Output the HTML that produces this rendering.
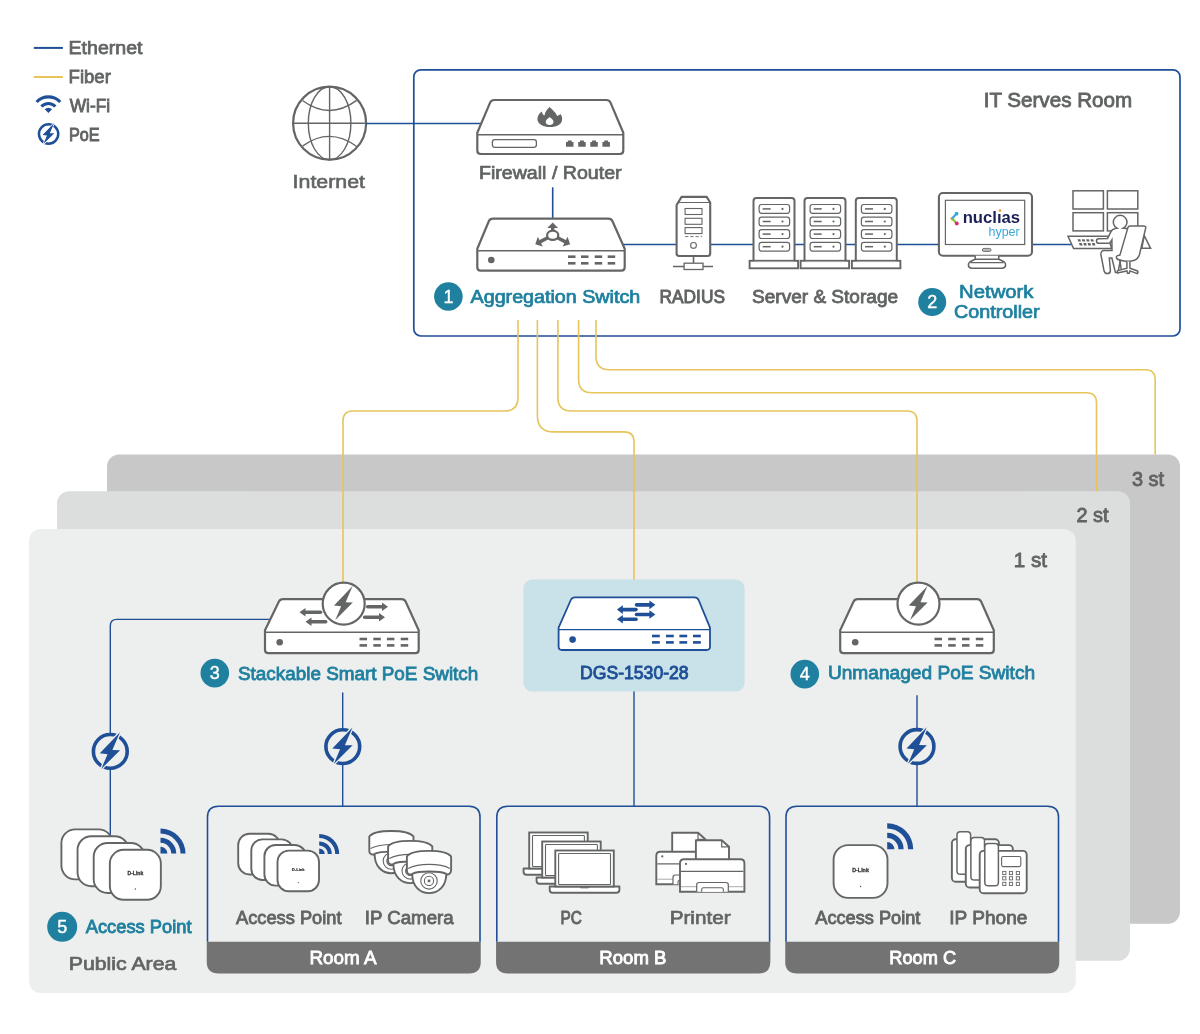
<!DOCTYPE html>
<html><head><meta charset="utf-8"><title>Network Diagram</title>
<style>html,body{margin:0;padding:0;background:#fff;} svg{display:block;will-change:transform;} text{font-family:"Liberation Sans",sans-serif;}</style>
</head><body>
<svg width="1200" height="1034" viewBox="0 0 1200 1034" font-family="Liberation Sans, sans-serif">
<rect width="1200" height="1034" fill="#fff"/>
<line x1="33.8" y1="47.9" x2="62.9" y2="47.9" stroke="#1f4f96" stroke-width="2"/>
<line x1="33.8" y1="77" x2="62.9" y2="77" stroke="#e7c45c" stroke-width="2"/>
<path d="M35.46,100.93 A17.7,17.7 0 0 1 61.34,100.93 L59.08,103.04 A14.6,14.6 0 0 0 37.72,103.04 Z M40.28,105.43 A11.1,11.1 0 0 1 56.52,105.43 L54.25,107.54 A8.0,8.0 0 0 0 42.55,107.54 Z M44.72,109.32 A5.2,5.2 0 0 1 52.08,109.32 L48.40,113.00 A0,0 0 0 0 48.40,113.00 Z" fill="#1f4f96"/>
<circle cx="48.6" cy="134.0" r="9.65" fill="#fff" stroke="#1f4f96" stroke-width="2.49"/>
<polygon points="54.19,122.94 49.80,133.16 54.27,133.27 43.37,144.12 47.01,135.59 42.54,135.12" fill="#1f4f96" stroke="#fff" stroke-width="1.50" paint-order="stroke" stroke-linejoin="miter"/>
<text x="68.51" y="54.2" font-size="18" fill="#626464" font-weight="normal" stroke="#626464" stroke-width="0.75" textLength="74.05" lengthAdjust="spacingAndGlyphs">Ethernet</text>
<text x="68.57" y="83.1" font-size="18" fill="#626464" font-weight="normal" stroke="#626464" stroke-width="0.79" textLength="42.32" lengthAdjust="spacingAndGlyphs">Fiber</text>
<text x="69.76" y="111.7" font-size="18" fill="#626464" font-weight="normal" stroke="#626464" stroke-width="0.9" textLength="40.32" lengthAdjust="spacingAndGlyphs">Wi-Fi</text>
<text x="69.00" y="140.6" font-size="18" fill="#626464" font-weight="normal" stroke="#626464" stroke-width="0.95" textLength="30.63" lengthAdjust="spacingAndGlyphs">PoE</text>
<g fill="none" stroke="#646666">
<circle cx="329.6" cy="123.2" r="36.5" stroke-width="2.2"/>
<ellipse cx="329.6" cy="123.2" rx="21.3" ry="36.5" stroke-width="1.4"/>
<line x1="329.6" y1="86.7" x2="329.6" y2="159.7" stroke-width="1.4"/>
<line x1="293.1" y1="123.2" x2="366.1" y2="123.2" stroke-width="1.4"/>
<path d="M302.8,100.8 Q329.6,120.4 356.6,100.4" stroke-width="1.4"/>
<path d="M302.8,145.9 Q329.6,126.6 356.6,146.5" stroke-width="1.4"/>
</g>
<text x="292.61" y="187.9" font-size="18" fill="#626464" font-weight="normal" stroke="#626464" stroke-width="0.6" textLength="72.36" lengthAdjust="spacingAndGlyphs">Internet</text>
<line x1="366" y1="123.5" x2="482" y2="123.5" stroke="#1f4f96" stroke-width="1.5"/>
<rect x="413.8" y="69.9" width="766.2" height="266.1" rx="7" fill="none" stroke="#1f4f96" stroke-width="1.7"/>
<text x="983.67" y="107" font-size="20" fill="#626464" font-weight="normal" stroke="#626464" stroke-width="0.83" textLength="148.46" lengthAdjust="spacingAndGlyphs">IT Serves Room</text>
<line x1="552.7" y1="187.3" x2="552.7" y2="219" stroke="#1f4f96" stroke-width="1.6"/>
<line x1="620" y1="244.5" x2="1072" y2="244.5" stroke="#1f4f96" stroke-width="1.5"/>
<path d="M477.3,132.7 L490.1,102.6 Q491.3,100 494.3,100 L606.3,100 Q609.3,100 610.5,102.6 L623.3,132.7 L623.3,150.5 Q623.3,154 619.8,154 L480.8,154 Q477.3,154 477.3,150.5 Z" fill="#fff" stroke="#646666" stroke-width="2.2" stroke-linejoin="round"/>
<line x1="477.3" y1="134.7" x2="623.3" y2="134.7" stroke="#646666" stroke-width="1.4"/>
<rect x="492.4" y="139.6" width="44" height="7.7" rx="2.5" fill="none" stroke="#646666" stroke-width="1.3"/>
<path d="M566,146.8 L566,142 L567.8,142 L567.8,140.4 L571.7,140.4 L571.7,142 L573.5,142 L573.5,146.8 Z" fill="#646666"/>
<path d="M578.2,146.8 L578.2,142 L580.0,142 L580.0,140.4 L583.9000000000001,140.4 L583.9000000000001,142 L585.7,142 L585.7,146.8 Z" fill="#646666"/>
<path d="M590.3,146.8 L590.3,142 L592.0999999999999,142 L592.0999999999999,140.4 L596.0,140.4 L596.0,142 L597.8,142 L597.8,146.8 Z" fill="#646666"/>
<path d="M602.4,146.8 L602.4,142 L604.1999999999999,142 L604.1999999999999,140.4 L608.1,140.4 L608.1,142 L609.9,142 L609.9,146.8 Z" fill="#646666"/>
<path d="M549.7,107 C552,110 556,112 557,116 C558.5,115.5 560,114.5 560.7,114.2 C562.5,117 563,121 560,124 C557.5,126.5 553,127 549.7,127 C545,127 540,125.5 538,121.5 C536.5,118 538.5,113.5 542,111.5 C542,113.5 543,115 544.5,115.5 C545,111.5 547.5,109 549.7,107 Z" fill="#646666"/>
<path d="M549.7,117 C551.5,118.5 553.5,120 553.5,122 C553.5,124 551.5,125 549.7,125 C547.5,125 545.7,124 545.7,122 C545.7,120 547.8,118.5 549.7,117 Z" fill="#fff"/>
<text x="478.91" y="178.7" font-size="18" fill="#626464" font-weight="normal" stroke="#626464" stroke-width="0.73" textLength="142.75" lengthAdjust="spacingAndGlyphs">Firewall / Router</text>
<path d="M477.3,248.7 L488.8,221.29999999999998 Q490.0,218.7 493.0,218.7 L608.3000000000001,218.7 Q611.3000000000001,218.7 612.5000000000001,221.29999999999998 L624.7,248.7 L624.7,267.2 Q624.7,270.7 621.2,270.7 L480.8,270.7 Q477.3,270.7 477.3,267.2 Z" fill="#fff" stroke="#646666" stroke-width="2.2" stroke-linejoin="round"/>
<line x1="477.3" y1="250.7" x2="624.7" y2="250.7" stroke="#646666" stroke-width="1.4"/>
<circle cx="491.3" cy="260" r="3.3" fill="#646666"/>
<rect x="568" y="255.39999999999998" width="7.5" height="2.6" fill="#646666"/>
<rect x="568" y="262.0" width="7.5" height="2.6" fill="#646666"/>
<rect x="581" y="255.39999999999998" width="7.5" height="2.6" fill="#646666"/>
<rect x="581" y="262.0" width="7.5" height="2.6" fill="#646666"/>
<rect x="594.7" y="255.39999999999998" width="7.5" height="2.6" fill="#646666"/>
<rect x="594.7" y="262.0" width="7.5" height="2.6" fill="#646666"/>
<rect x="607.7" y="255.39999999999998" width="7.5" height="2.6" fill="#646666"/>
<rect x="607.7" y="262.0" width="7.5" height="2.6" fill="#646666"/>
<line x1="552.7" y1="235.3" x2="552.70" y2="227.50" stroke="#646666" stroke-width="3.4"/>
<polygon points="552.70,222.40 558.10,228.00 547.30,228.00" fill="#646666"/>
<line x1="552.7" y1="235.3" x2="539.84" y2="241.88" stroke="#646666" stroke-width="3.4"/>
<polygon points="535.30,244.20 537.83,236.84 542.74,246.46" fill="#646666"/>
<line x1="552.7" y1="235.3" x2="565.56" y2="241.88" stroke="#646666" stroke-width="3.4"/>
<polygon points="570.10,244.20 562.66,246.46 567.57,236.84" fill="#646666"/>
<ellipse cx="552.7" cy="235.3" rx="5.6" ry="4.6" fill="#fff" stroke="#646666" stroke-width="2.2"/>
<circle cx="448.4" cy="296.5" r="14.3" fill="#1f80a0"/>
<text x="448.4" y="302.8" font-size="18" fill="#fff" font-weight="normal" stroke="#fff" stroke-width="0.4" text-anchor="middle">1</text>
<text x="470.59" y="302.8" font-size="18" fill="#1f80a0" font-weight="normal" stroke="#1f80a0" stroke-width="0.73" textLength="169.61" lengthAdjust="spacingAndGlyphs">Aggregation Switch</text>
<path d="M676.6,205 L681.6,196.9 L706.7,196.9 L710.2,202.5 L710.2,253.5 Q710.2,256 707.7,256 L679.1,256 Q676.6,256 676.6,253.5 Z" fill="#fff" stroke="#646666" stroke-width="2.1" stroke-linejoin="round"/>
<line x1="678" y1="202.5" x2="709" y2="202.5" stroke="#646666" stroke-width="1"/>
<rect x="685.1" y="208.5" width="16.9" height="6" fill="none" stroke="#646666" stroke-width="1.1"/>
<rect x="685.1" y="218.3" width="16.9" height="6" fill="none" stroke="#646666" stroke-width="1.1"/>
<rect x="685.1" y="227.6" width="16.9" height="6" fill="none" stroke="#646666" stroke-width="1.1"/>
<line x1="685.1" y1="236.6" x2="702" y2="236.6" stroke="#646666" stroke-width="0.9" stroke-dasharray="3.2,2"/>
<circle cx="693.5" cy="245.4" r="2.9" fill="#fff" stroke="#646666" stroke-width="1.1"/>
<line x1="693.5" y1="256" x2="693.5" y2="263.3" stroke="#646666" stroke-width="1.6"/>
<line x1="673" y1="266.5" x2="713" y2="266.5" stroke="#646666" stroke-width="1.4"/>
<rect x="684.1" y="263.2" width="18.9" height="6.3" fill="#fff" stroke="#646666" stroke-width="1.3"/>
<text x="659.54" y="303.2" font-size="18" fill="#626464" font-weight="normal" stroke="#626464" stroke-width="0.94" textLength="65.48" lengthAdjust="spacingAndGlyphs">RADIUS</text>
<path d="M753.5,261 L753.5,201 Q753.5,198 756.5,198 L791.5,198 Q794.5,198 794.5,201 L794.5,261" fill="#fff" stroke="#646666" stroke-width="2"/>
<rect x="749.6" y="260.8" width="48.5" height="7.5" fill="#fff" stroke="#646666" stroke-width="1.9"/>
<line x1="754.5" y1="261.6" x2="793.5" y2="261.6" stroke="#aaa" stroke-width="1"/>
<rect x="759.1" y="204.5" width="30.5" height="8.8" rx="2.5" fill="#fff" stroke="#646666" stroke-width="1.2"/>
<line x1="762.7" y1="208.9" x2="770.7" y2="208.9" stroke="#646666" stroke-width="1.5"/>
<circle cx="782.5" cy="208.9" r="1.1" fill="#646666"/>
<rect x="759.1" y="217.1" width="30.5" height="8.8" rx="2.5" fill="#fff" stroke="#646666" stroke-width="1.2"/>
<line x1="762.7" y1="221.5" x2="770.7" y2="221.5" stroke="#646666" stroke-width="1.5"/>
<circle cx="782.5" cy="221.5" r="1.1" fill="#646666"/>
<rect x="759.1" y="229.7" width="30.5" height="8.8" rx="2.5" fill="#fff" stroke="#646666" stroke-width="1.2"/>
<line x1="762.7" y1="234.1" x2="770.7" y2="234.1" stroke="#646666" stroke-width="1.5"/>
<circle cx="782.5" cy="234.1" r="1.1" fill="#646666"/>
<rect x="759.1" y="242.3" width="30.5" height="8.8" rx="2.5" fill="#fff" stroke="#646666" stroke-width="1.2"/>
<line x1="762.7" y1="246.70000000000002" x2="770.7" y2="246.70000000000002" stroke="#646666" stroke-width="1.5"/>
<circle cx="782.5" cy="246.70000000000002" r="1.1" fill="#646666"/>
<path d="M804.5,261 L804.5,201 Q804.5,198 807.5,198 L842.5,198 Q845.5,198 845.5,201 L845.5,261" fill="#fff" stroke="#646666" stroke-width="2"/>
<rect x="800.6" y="260.8" width="48.5" height="7.5" fill="#fff" stroke="#646666" stroke-width="1.9"/>
<line x1="805.5" y1="261.6" x2="844.5" y2="261.6" stroke="#aaa" stroke-width="1"/>
<rect x="810.1" y="204.5" width="30.5" height="8.8" rx="2.5" fill="#fff" stroke="#646666" stroke-width="1.2"/>
<line x1="813.7" y1="208.9" x2="821.7" y2="208.9" stroke="#646666" stroke-width="1.5"/>
<circle cx="833.5" cy="208.9" r="1.1" fill="#646666"/>
<rect x="810.1" y="217.1" width="30.5" height="8.8" rx="2.5" fill="#fff" stroke="#646666" stroke-width="1.2"/>
<line x1="813.7" y1="221.5" x2="821.7" y2="221.5" stroke="#646666" stroke-width="1.5"/>
<circle cx="833.5" cy="221.5" r="1.1" fill="#646666"/>
<rect x="810.1" y="229.7" width="30.5" height="8.8" rx="2.5" fill="#fff" stroke="#646666" stroke-width="1.2"/>
<line x1="813.7" y1="234.1" x2="821.7" y2="234.1" stroke="#646666" stroke-width="1.5"/>
<circle cx="833.5" cy="234.1" r="1.1" fill="#646666"/>
<rect x="810.1" y="242.3" width="30.5" height="8.8" rx="2.5" fill="#fff" stroke="#646666" stroke-width="1.2"/>
<line x1="813.7" y1="246.70000000000002" x2="821.7" y2="246.70000000000002" stroke="#646666" stroke-width="1.5"/>
<circle cx="833.5" cy="246.70000000000002" r="1.1" fill="#646666"/>
<path d="M855.8,261 L855.8,201 Q855.8,198 858.8,198 L893.8,198 Q896.8,198 896.8,201 L896.8,261" fill="#fff" stroke="#646666" stroke-width="2"/>
<rect x="851.9" y="260.8" width="48.5" height="7.5" fill="#fff" stroke="#646666" stroke-width="1.9"/>
<line x1="856.8" y1="261.6" x2="895.8" y2="261.6" stroke="#aaa" stroke-width="1"/>
<rect x="861.4" y="204.5" width="30.5" height="8.8" rx="2.5" fill="#fff" stroke="#646666" stroke-width="1.2"/>
<line x1="865.0" y1="208.9" x2="873.0" y2="208.9" stroke="#646666" stroke-width="1.5"/>
<circle cx="884.8" cy="208.9" r="1.1" fill="#646666"/>
<rect x="861.4" y="217.1" width="30.5" height="8.8" rx="2.5" fill="#fff" stroke="#646666" stroke-width="1.2"/>
<line x1="865.0" y1="221.5" x2="873.0" y2="221.5" stroke="#646666" stroke-width="1.5"/>
<circle cx="884.8" cy="221.5" r="1.1" fill="#646666"/>
<rect x="861.4" y="229.7" width="30.5" height="8.8" rx="2.5" fill="#fff" stroke="#646666" stroke-width="1.2"/>
<line x1="865.0" y1="234.1" x2="873.0" y2="234.1" stroke="#646666" stroke-width="1.5"/>
<circle cx="884.8" cy="234.1" r="1.1" fill="#646666"/>
<rect x="861.4" y="242.3" width="30.5" height="8.8" rx="2.5" fill="#fff" stroke="#646666" stroke-width="1.2"/>
<line x1="865.0" y1="246.70000000000002" x2="873.0" y2="246.70000000000002" stroke="#646666" stroke-width="1.5"/>
<circle cx="884.8" cy="246.70000000000002" r="1.1" fill="#646666"/>
<text x="752.00" y="303.3" font-size="18" fill="#626464" font-weight="normal" stroke="#626464" stroke-width="0.79" textLength="146.08" lengthAdjust="spacingAndGlyphs">Server &amp; Storage</text>
<rect x="938.9" y="193" width="93.1" height="62.7" rx="4" fill="#fff" stroke="#646666" stroke-width="2.1"/>
<rect x="945.4" y="200.3" width="79.3" height="44.2" fill="#fff" stroke="#646666" stroke-width="1.2"/>
<rect x="982.4" y="248.4" width="8.6" height="3" rx="1.5" fill="#bbb" stroke="#646666" stroke-width="0.9"/>
<path d="M975.2,259.3 L998.8,259.3 Q1002.5,260.8 1004.2,262 Q1005.8,263.4 1005.6,265.3 Q1005.4,268.2 1002,268.2 L972,268.2 Q968.6,268.2 968.4,265.3 Q968.2,263.4 969.8,262 Q971.5,260.8 975.2,259.3 Z" fill="#fff" stroke="#646666" stroke-width="1.6"/>
<line x1="970.5" y1="262.6" x2="1003.5" y2="262.6" stroke="#646666" stroke-width="1.1"/>
<path d="M975.2,255.7 L975.2,259.3 L998.8,259.3 L998.8,255.7" fill="#fff" stroke="#646666" stroke-width="1.5"/>
<text x="962.7" y="223.2" font-size="16" font-weight="bold" fill="#1b2058" textLength="57.4" lengthAdjust="spacingAndGlyphs">nuclıas</text>
<text x="988.5" y="235.8" font-size="12" fill="#3aa8dc" textLength="31.2" lengthAdjust="spacingAndGlyphs">hyper</text>
<circle cx="956.6" cy="213.7" r="1.9" fill="#3aa8dc"/>
<circle cx="952.3" cy="218.6" r="1.9" fill="#f29a2e"/>
<line x1="953" y1="219.5" x2="956" y2="222.6" stroke="#8cc63f" stroke-width="2.4" stroke-linecap="round"/>
<circle cx="956.8" cy="223.5" r="1.9" fill="#e3266e"/>
<line x1="952.8" y1="217.8" x2="955.8" y2="214.6" stroke="#3aa8dc" stroke-width="2.2" stroke-linecap="round"/>
<circle cx="1000" cy="210.6" r="1.3" fill="#f29a2e"/>
<circle cx="932.2" cy="302.1" r="14" fill="#1f80a0"/>
<text x="932.2" y="308.40000000000003" font-size="18" fill="#fff" font-weight="normal" stroke="#fff" stroke-width="0.4" text-anchor="middle">2</text>
<text x="959.07" y="297.5" font-size="18" fill="#1f80a0" font-weight="normal" stroke="#1f80a0" stroke-width="0.69" textLength="74.42" lengthAdjust="spacingAndGlyphs">Network</text>
<text x="954.00" y="317.8" font-size="18" fill="#1f80a0" font-weight="normal" stroke="#1f80a0" stroke-width="0.71" textLength="85.64" lengthAdjust="spacingAndGlyphs">Controller</text>
<g fill="#fff" stroke="#646666" stroke-width="1.5">
<rect x="1073" y="190.8" width="30.4" height="18.2"/>
<rect x="1107.4" y="190.8" width="30.4" height="18.2"/>
<rect x="1073" y="212.7" width="30.4" height="18.2"/>
<rect x="1107.4" y="212.7" width="30.4" height="18.2"/>
<polygon points="1068,236.3 1107.7,236.3 1111.7,248.5 1073.6,248.5"/>
<polygon points="1144.2,235.7 1150.6,248.3 1141.8,248.3"/>
<path d="M1117.1,228.2 A6.8,6.8 0 1 1 1123.2,228.2 L1126.5,228.6 Q1128.5,229 1128,231.5 L1122,258 L1120,262 L1118,272.5 L1115.4,272.5 L1111.9,258.1 L1109.3,258.1 L1110.4,270.6 Q1110.3,273.6 1107.4,273.6 Q1104.6,273.6 1104,270.6 L1100.9,254.6 Q1100.7,250.7 1104,250.6 L1112,250.6 L1111.9,239.8 L1111.5,240.5 Q1110.2,243.2 1108.4,243.2 L1098.6,243.2 Q1096.6,243.2 1096.5,241.1 Q1096.5,238.8 1098.5,238.7 L1107.6,238.4 L1110.7,232.2 Q1112,229.2 1114.5,228.8 Z"/>
<path d="M1127.9,227.6 Q1128.3,225.9 1130.2,225.9 L1144,225.9 Q1146.2,226.2 1145.6,228.4 L1139.6,254 Q1138.7,258.2 1134.5,260.3 Q1131,261.6 1126,261.2 Q1118.5,260.3 1116.8,258.6 Q1115.6,256.4 1117.6,255.6 L1119.9,255.1 Z"/>
<line x1="1119.9" y1="261" x2="1121.2" y2="269" fill="none"/>
<path d="M1126.9,261.5 L1126.9,268.2 L1118,270.6 Q1116.6,271.6 1117.6,273 L1126.9,270.9 L1127.5,273.3 L1129.3,273.3 L1129.9,270.9 L1137.4,273.6 Q1138.6,272.2 1137.6,271 L1129.9,268.2 L1129.9,261.5"/>
</g>
<polygon points="1077.5,239.20000000000002 1080.3,239.20000000000002 1081.0,241.6 1078.2,241.6" fill="#646666"/>
<polygon points="1081.8,239.20000000000002 1084.6,239.20000000000002 1085.3,241.6 1082.5,241.6" fill="#646666"/>
<polygon points="1086.1,239.20000000000002 1088.8999999999999,239.20000000000002 1089.6,241.6 1086.8,241.6" fill="#646666"/>
<polygon points="1090.4,239.20000000000002 1093.2,239.20000000000002 1093.9,241.6 1091.1000000000001,241.6" fill="#646666"/>
<polygon points="1079.0,243.0 1081.8,243.0 1082.5,245.39999999999998 1079.7,245.39999999999998" fill="#646666"/>
<polygon points="1083.3,243.0 1086.1,243.0 1086.8,245.39999999999998 1084.0,245.39999999999998" fill="#646666"/>
<polygon points="1087.6,243.0 1090.3999999999999,243.0 1091.1,245.39999999999998 1088.3,245.39999999999998" fill="#646666"/>
<polygon points="1091.9,243.0 1094.7,243.0 1095.4,245.39999999999998 1092.6000000000001,245.39999999999998" fill="#646666"/>
<rect x="107" y="454.5" width="1073" height="469.2" rx="12" fill="#c8c8c8"/>
<rect x="57.1" y="491.3" width="1072.9" height="469.4" rx="12" fill="#dcdddd"/>
<rect x="29" y="529" width="1046.8" height="464" rx="12" fill="#edeeee"/>
<text x="1132.00" y="486" font-size="20" fill="#626464" font-weight="normal" stroke="#626464" stroke-width="0.89" textLength="32.05" lengthAdjust="spacingAndGlyphs">3 st</text>
<text x="1076.50" y="522" font-size="20" fill="#626464" font-weight="normal" stroke="#626464" stroke-width="0.89" textLength="32.05" lengthAdjust="spacingAndGlyphs">2 st</text>
<text x="1013.77" y="567" font-size="20" fill="#626464" font-weight="normal" stroke="#626464" stroke-width="0.84" textLength="33.16" lengthAdjust="spacingAndGlyphs">1 st</text>
<path d="M518.0,320 L518.0,397.5 Q518.0,411.0 504.5,411.0 L353.0,411.0 Q343.0,411.0 343.0,421.0 L343.0,583" fill="none" stroke="#e7c45c" stroke-width="1.6"/>
<path d="M537.4,320 L537.4,415.4 Q537.4,431.9 553.9,431.9 L624,431.9 Q634,431.9 634,441.9 L634,580" fill="none" stroke="#e7c45c" stroke-width="1.6"/>
<path d="M557.9,320 L557.9,397.5 Q557.9,411 571.4,411 L907.0,411 Q917.0,411 917.0,421 L917.0,583" fill="none" stroke="#e7c45c" stroke-width="1.6"/>
<path d="M578.6,320 L578.6,379.2 Q578.6,392.7 592.1,392.7 L1086.5,392.7 Q1096.5,392.7 1096.5,402.7 L1096.5,491.3" fill="none" stroke="#e7c45c" stroke-width="1.6"/>
<path d="M596.0,320 L596.0,356.3 Q596.0,369.8 609.5,369.8 L1145.2,369.8 Q1155.2,369.8 1155.2,379.8 L1155.2,454.5" fill="none" stroke="#e7c45c" stroke-width="1.6"/>
<path d="M270,619.4 L116.8,619.4 Q110.3,619.4 110.3,625.9 L110.3,836" fill="none" stroke="#1f4f96" stroke-width="1.4"/>
<line x1="342.7" y1="692.5" x2="342.7" y2="806.3" stroke="#1f4f96" stroke-width="1.4"/>
<line x1="634.0" y1="691" x2="634.0" y2="806.3" stroke="#1f4f96" stroke-width="1.4"/>
<line x1="917.0" y1="695.2" x2="917.0" y2="806.3" stroke="#1f4f96" stroke-width="1.4"/>
<circle cx="110.3" cy="751.4" r="16.90" fill="#edeeee" stroke="#1f4f96" stroke-width="3.60"/>
<polygon points="119.97,732.26 112.38,749.95 120.11,750.14 101.26,768.90 107.55,754.15 99.81,753.33" fill="#1f4f96" stroke="#edeeee" stroke-width="2.60" paint-order="stroke" stroke-linejoin="miter"/>
<circle cx="342.8" cy="746.6" r="16.90" fill="#edeeee" stroke="#1f4f96" stroke-width="3.60"/>
<polygon points="352.47,727.46 344.88,745.15 352.61,745.34 333.76,764.10 340.05,749.35 332.31,748.53" fill="#1f4f96" stroke="#edeeee" stroke-width="2.60" paint-order="stroke" stroke-linejoin="miter"/>
<circle cx="917.0" cy="746.5" r="16.90" fill="#edeeee" stroke="#1f4f96" stroke-width="3.60"/>
<polygon points="926.67,727.36 919.08,745.05 926.81,745.24 907.96,764.00 914.25,749.25 906.51,748.43" fill="#1f4f96" stroke="#edeeee" stroke-width="2.60" paint-order="stroke" stroke-linejoin="miter"/>
<path d="M265,630.2 L278.8,601.8000000000001 Q280,599.2 283,599.2 L401.5,599.2 Q404.5,599.2 405.7,601.8000000000001 L418.7,630.2 L418.7,649.7 Q418.7,653.2 415.2,653.2 L268.5,653.2 Q265,653.2 265,649.7 Z" fill="#fff" stroke="#646666" stroke-width="2.2" stroke-linejoin="round"/>
<line x1="265" y1="632.2" x2="418.7" y2="632.2" stroke="#646666" stroke-width="1.4"/>
<circle cx="279.7" cy="642.3" r="3.3" fill="#646666"/>
<rect x="359.5" y="637.7" width="7.5" height="2.6" fill="#646666"/>
<rect x="359.5" y="644.1" width="7.5" height="2.6" fill="#646666"/>
<rect x="373.3" y="637.7" width="7.5" height="2.6" fill="#646666"/>
<rect x="373.3" y="644.1" width="7.5" height="2.6" fill="#646666"/>
<rect x="386.9" y="637.7" width="7.5" height="2.6" fill="#646666"/>
<rect x="386.9" y="644.1" width="7.5" height="2.6" fill="#646666"/>
<rect x="400.7" y="637.7" width="7.5" height="2.6" fill="#646666"/>
<rect x="400.7" y="644.1" width="7.5" height="2.6" fill="#646666"/>
<line x1="320.5" y1="612.3" x2="305.5" y2="612.3" stroke="#646666" stroke-width="3.6" stroke-linecap="round"/>
<polygon points="299.5,612.3 305.5,608.0 305.5,616.5999999999999" fill="#646666"/>
<line x1="325.7" y1="621.7" x2="311.5" y2="621.7" stroke="#646666" stroke-width="3.6" stroke-linecap="round"/>
<polygon points="305.5,621.7 311.5,617.4000000000001 311.5,626.0" fill="#646666"/>
<line x1="367.7" y1="606.7" x2="382" y2="606.7" stroke="#646666" stroke-width="3.6" stroke-linecap="round"/>
<polygon points="388,606.7 382,602.4000000000001 382,611.0" fill="#646666"/>
<line x1="364.7" y1="617.2" x2="379" y2="617.2" stroke="#646666" stroke-width="3.6" stroke-linecap="round"/>
<polygon points="385,617.2 379,612.9000000000001 379,621.5" fill="#646666"/>
<circle cx="343.7" cy="603.7" r="21" fill="#fff" stroke="#646666" stroke-width="2.2"/>
<polygon points="352.69,585.90 345.63,602.35 352.82,602.53 335.29,619.98 341.14,606.26 333.94,605.49" fill="#646666"/>
<circle cx="214.8" cy="673.1" r="14.3" fill="#1f80a0"/>
<text x="214.8" y="679.4" font-size="18" fill="#fff" font-weight="normal" stroke="#fff" stroke-width="0.4" text-anchor="middle">3</text>
<text x="238.00" y="679.9" font-size="18" fill="#1f80a0" font-weight="normal" stroke="#1f80a0" stroke-width="0.81" textLength="240.31" lengthAdjust="spacingAndGlyphs">Stackable Smart PoE Switch</text>
<rect x="523.4" y="579.6" width="221.2" height="112" rx="9" fill="#c9e1e8"/>
<path d="M558.6,627.6 L570.8,600.0 Q572.0,597.4 575.0,597.4 L694.4,597.4 Q697.4,597.4 698.6,600.0 L710,627.6 L710,646.5 Q710,650 706.5,650 L562.1,650 Q558.6,650 558.6,646.5 Z" fill="#fff" stroke="#1f4f96" stroke-width="1.8" stroke-linejoin="round"/>
<line x1="558.6" y1="629.6" x2="710" y2="629.6" stroke="#1f4f96" stroke-width="1.4"/>
<circle cx="572.6" cy="639.6" r="3.3" fill="#1f4f96"/>
<rect x="652" y="634.7" width="7.8" height="2.6" fill="#1f4f96"/>
<rect x="652" y="641.1" width="7.8" height="2.6" fill="#1f4f96"/>
<rect x="666" y="634.7" width="7.8" height="2.6" fill="#1f4f96"/>
<rect x="666" y="641.1" width="7.8" height="2.6" fill="#1f4f96"/>
<rect x="679.4" y="634.7" width="7.8" height="2.6" fill="#1f4f96"/>
<rect x="679.4" y="641.1" width="7.8" height="2.6" fill="#1f4f96"/>
<rect x="693" y="634.7" width="7.8" height="2.6" fill="#1f4f96"/>
<rect x="693" y="641.1" width="7.8" height="2.6" fill="#1f4f96"/>
<line x1="636.5" y1="604.85" x2="649.4" y2="604.85" stroke="#1f4f96" stroke-width="3.6" stroke-linecap="round"/>
<polygon points="655.4,604.85 649.4,600.5500000000001 649.4,609.15" fill="#1f4f96"/>
<line x1="636" y1="609.6" x2="622.9" y2="609.6" stroke="#1f4f96" stroke-width="3.6" stroke-linecap="round"/>
<polygon points="616.9,609.6 622.9,605.3000000000001 622.9,613.9" fill="#1f4f96"/>
<line x1="636.5" y1="614.5" x2="649.4" y2="614.5" stroke="#1f4f96" stroke-width="3.6" stroke-linecap="round"/>
<polygon points="655.4,614.5 649.4,610.2 649.4,618.8" fill="#1f4f96"/>
<line x1="636" y1="619.3" x2="622.9" y2="619.3" stroke="#1f4f96" stroke-width="3.6" stroke-linecap="round"/>
<polygon points="616.9,619.3 622.9,615.0 622.9,623.5999999999999" fill="#1f4f96"/>
<text x="580.02" y="679" font-size="18" fill="#1f4f96" font-weight="normal" stroke="#1f4f96" stroke-width="0.91" textLength="108.64" lengthAdjust="spacingAndGlyphs">DGS-1530-28</text>
<path d="M840.2,630.2 L853.5,601.8000000000001 Q854.7,599.2 857.7,599.2 L977.0,599.2 Q980.0,599.2 981.2,601.8000000000001 L993.8,630.2 L993.8,649.7 Q993.8,653.2 990.3,653.2 L843.7,653.2 Q840.2,653.2 840.2,649.7 Z" fill="#fff" stroke="#646666" stroke-width="2.2" stroke-linejoin="round"/>
<line x1="840.2" y1="632.2" x2="993.8" y2="632.2" stroke="#646666" stroke-width="1.4"/>
<circle cx="855.2" cy="642.3" r="3.3" fill="#646666"/>
<rect x="934.5" y="637.7" width="7.5" height="2.6" fill="#646666"/>
<rect x="934.5" y="644.1" width="7.5" height="2.6" fill="#646666"/>
<rect x="948.2" y="637.7" width="7.5" height="2.6" fill="#646666"/>
<rect x="948.2" y="644.1" width="7.5" height="2.6" fill="#646666"/>
<rect x="962" y="637.7" width="7.5" height="2.6" fill="#646666"/>
<rect x="962" y="644.1" width="7.5" height="2.6" fill="#646666"/>
<rect x="975.8" y="637.7" width="7.5" height="2.6" fill="#646666"/>
<rect x="975.8" y="644.1" width="7.5" height="2.6" fill="#646666"/>
<circle cx="918.5" cy="603.7" r="21" fill="#fff" stroke="#646666" stroke-width="2.2"/>
<polygon points="927.49,585.90 920.43,602.35 927.62,602.53 910.09,619.98 915.94,606.26 908.74,605.49" fill="#646666"/>
<circle cx="804.8" cy="674.1" r="14.3" fill="#1f80a0"/>
<text x="804.8" y="680.4" font-size="18" fill="#fff" font-weight="normal" stroke="#fff" stroke-width="0.4" text-anchor="middle">4</text>
<text x="827.94" y="679.3" font-size="18" fill="#1f80a0" font-weight="normal" stroke="#1f80a0" stroke-width="0.79" textLength="207.18" lengthAdjust="spacingAndGlyphs">Unmanaged PoE Switch</text>
<rect x="61.4" y="829.4" width="51" height="49.98" rx="13.770000000000001" fill="#fff" stroke="#646666" stroke-width="1.9"/>
<rect x="77.55" y="836.1999999999999" width="51" height="49.98" rx="13.770000000000001" fill="#fff" stroke="#646666" stroke-width="1.9"/>
<rect x="93.69999999999999" y="843.0" width="51" height="49.98" rx="13.770000000000001" fill="#fff" stroke="#646666" stroke-width="1.9"/>
<rect x="109.85" y="849.8" width="51" height="49.98" rx="13.770000000000001" fill="#fff" stroke="#646666" stroke-width="1.9"/>
<text x="135.35" y="875.3" font-size="5.10" font-weight="bold" fill="#333" stroke="#333" stroke-width="0.26" text-anchor="middle" textLength="15.81" lengthAdjust="spacingAndGlyphs">D-Link</text>
<circle cx="135.35" cy="889.0699999999999" r="0.71" fill="#555"/>
<path d="M160.5,853.6 L160.5,846.725 A6.875000000000001,6.875000000000001 0 0 1 167.375,853.6 Z" fill="#1f4f96"/>
<path d="M160.5,837.85 A15.75,15.75 0 0 1 176.25,853.6 L171.25,853.6 A10.75,10.75 0 0 0 160.5,842.85 Z" fill="#1f4f96"/>
<path d="M160.5,828.6 A25,25 0 0 1 185.5,853.6 L180.5,853.6 A20.0,20.0 0 0 0 160.5,833.6 Z" fill="#1f4f96"/>
<circle cx="62.2" cy="926.8" r="15" fill="#1f80a0"/>
<text x="62.2" y="933.0999999999999" font-size="18" fill="#fff" font-weight="normal" stroke="#fff" stroke-width="0.4" text-anchor="middle">5</text>
<text x="85.72" y="933.3" font-size="18" fill="#1f80a0" font-weight="normal" stroke="#1f80a0" stroke-width="0.84" textLength="105.91" lengthAdjust="spacingAndGlyphs">Access Point</text>
<text x="68.78" y="969.5" font-size="19" fill="#626464" font-weight="normal" stroke="#626464" stroke-width="0.7" textLength="107.54" lengthAdjust="spacingAndGlyphs">Public Area</text>
<path d="M206.75,941.8 L206.75,961.8 Q206.75,973.55 218.5,973.55 L469,973.55 Q480.75,973.55 480.75,961.8 L480.75,941.8 Z" fill="#737373"/>
<path d="M207.5,941.8 L207.5,817.3 Q207.5,806.3 218.5,806.3 L469,806.3 Q480,806.3 480,817.3 L480,941.8" fill="none" stroke="#1f4f96" stroke-width="1.6"/>
<text x="309.45" y="963.7" font-size="18" fill="#fff" font-weight="normal" stroke="#fff" stroke-width="0.81" textLength="67.03" lengthAdjust="spacingAndGlyphs">Room A</text>
<path d="M496.05,941.8 L496.05,961.8 Q496.05,973.55 507.8,973.55 L758.6,973.55 Q770.35,973.55 770.35,961.8 L770.35,941.8 Z" fill="#737373"/>
<path d="M496.8,941.8 L496.8,817.3 Q496.8,806.3 507.8,806.3 L758.6,806.3 Q769.6,806.3 769.6,817.3 L769.6,941.8" fill="none" stroke="#1f4f96" stroke-width="1.6"/>
<text x="599.37" y="963.7" font-size="18" fill="#fff" font-weight="normal" stroke="#fff" stroke-width="0.83" textLength="67.06" lengthAdjust="spacingAndGlyphs">Room B</text>
<path d="M785.25,941.8 L785.25,961.8 Q785.25,973.55 797,973.55 L1047.5,973.55 Q1059.25,973.55 1059.25,961.8 L1059.25,941.8 Z" fill="#737373"/>
<path d="M786,941.8 L786,817.3 Q786,806.3 797,806.3 L1047.5,806.3 Q1058.5,806.3 1058.5,817.3 L1058.5,941.8" fill="none" stroke="#1f4f96" stroke-width="1.6"/>
<text x="889.39" y="963.7" font-size="18" fill="#fff" font-weight="normal" stroke="#fff" stroke-width="0.87" textLength="66.62" lengthAdjust="spacingAndGlyphs">Room C</text>
<rect x="238.2" y="833.8" width="41.5" height="40.67" rx="11.205" fill="#fff" stroke="#646666" stroke-width="1.9"/>
<rect x="251.29999999999998" y="839.4" width="41.5" height="40.67" rx="11.205" fill="#fff" stroke="#646666" stroke-width="1.9"/>
<rect x="264.4" y="845.0" width="41.5" height="40.67" rx="11.205" fill="#fff" stroke="#646666" stroke-width="1.9"/>
<rect x="277.5" y="850.5999999999999" width="41.5" height="40.67" rx="11.205" fill="#fff" stroke="#646666" stroke-width="1.9"/>
<text x="298.25" y="871.3499999999999" font-size="4.15" font-weight="bold" fill="#333" stroke="#333" stroke-width="0.21" text-anchor="middle" textLength="12.87" lengthAdjust="spacingAndGlyphs">D-Link</text>
<circle cx="298.25" cy="882.555" r="0.58" fill="#555"/>
<path d="M319.2,854 L319.2,848.5 A5.5,5.5 0 0 1 324.7,854 Z" fill="#1f4f96"/>
<path d="M319.2,841.4 A12.6,12.6 0 0 1 331.8,854 L327.8,854 A8.6,8.6 0 0 0 319.2,845.4 Z" fill="#1f4f96"/>
<path d="M319.2,834 A20,20 0 0 1 339.2,854 L335.2,854 A16.0,16.0 0 0 0 319.2,838.0 Z" fill="#1f4f96"/>
<path d="M369.3,836.5 C372.3,832.6 381.3,831 391.40000000000003,831 C401.3,831 410.3,832.6 413.5,836.5 L413.5,850 C413.5,853 411.3,854.6 408.8,854.8 L373.8,854.8 C371.3,854.6 369.3,853 369.3,851 Z" fill="#fff" stroke="#646666" stroke-width="1.9" stroke-linejoin="round"/>
<path d="M370.5,848.6 C377.3,845.2 384.3,844.5 391.40000000000003,844.5 C399.3,844.5 406.3,845.2 412.3,848.6" fill="none" stroke="#646666" stroke-width="1.1"/>
<path d="M374.6,853.9 C374.6,866.5 382.3,873.2 391.40000000000003,873.2 C400.8,873.2 408.7,866.5 408.7,853.9 C402.3,850.8 380.8,850.8 374.6,853.9 Z" fill="#fff" stroke="#646666" stroke-width="1.9" stroke-linejoin="round"/>
<circle cx="391.40000000000003" cy="861" r="8.2" fill="none" stroke="#646666" stroke-width="1.1"/>
<circle cx="391.40000000000003" cy="861" r="4.6" fill="none" stroke="#646666" stroke-width="1.1"/>
<rect x="390.1" y="859.7" width="2.6" height="2.6" fill="#646666"/>
<path d="M388.1,846.4 C391.1,842.5 400.1,840.9 410.20000000000005,840.9 C420.1,840.9 429.1,842.5 432.3,846.4 L432.3,859.9 C432.3,862.9 430.1,864.5 427.6,864.6999999999999 L392.6,864.6999999999999 C390.1,864.5 388.1,862.9 388.1,860.9 Z" fill="#fff" stroke="#646666" stroke-width="1.9" stroke-linejoin="round"/>
<path d="M389.3,858.5 C396.1,855.1 403.1,854.4 410.20000000000005,854.4 C418.1,854.4 425.1,855.1 431.1,858.5" fill="none" stroke="#646666" stroke-width="1.1"/>
<path d="M393.40000000000003,863.8 C393.40000000000003,876.4 401.1,883.1 410.20000000000005,883.1 C419.6,883.1 427.5,876.4 427.5,863.8 C421.1,860.6999999999999 399.6,860.6999999999999 393.40000000000003,863.8 Z" fill="#fff" stroke="#646666" stroke-width="1.9" stroke-linejoin="round"/>
<circle cx="410.20000000000005" cy="870.9" r="8.2" fill="none" stroke="#646666" stroke-width="1.1"/>
<circle cx="410.20000000000005" cy="870.9" r="4.6" fill="none" stroke="#646666" stroke-width="1.1"/>
<rect x="408.90000000000003" y="869.6" width="2.6" height="2.6" fill="#646666"/>
<path d="M406.9,856.4 C409.9,852.5 418.9,850.9 429.0,850.9 C438.9,850.9 447.9,852.5 451.09999999999997,856.4 L451.09999999999997,869.9 C451.09999999999997,872.9 448.9,874.5 446.4,874.6999999999999 L411.4,874.6999999999999 C408.9,874.5 406.9,872.9 406.9,870.9 Z" fill="#fff" stroke="#646666" stroke-width="1.9" stroke-linejoin="round"/>
<path d="M408.09999999999997,868.5 C414.9,865.1 421.9,864.4 429.0,864.4 C436.9,864.4 443.9,865.1 449.9,868.5" fill="none" stroke="#646666" stroke-width="1.1"/>
<path d="M412.2,873.8 C412.2,886.4 419.9,893.1 429.0,893.1 C438.4,893.1 446.29999999999995,886.4 446.29999999999995,873.8 C439.9,870.6999999999999 418.4,870.6999999999999 412.2,873.8 Z" fill="#fff" stroke="#646666" stroke-width="1.9" stroke-linejoin="round"/>
<circle cx="429.0" cy="880.9" r="8.2" fill="none" stroke="#646666" stroke-width="1.1"/>
<circle cx="429.0" cy="880.9" r="4.6" fill="none" stroke="#646666" stroke-width="1.1"/>
<rect x="427.7" y="879.6" width="2.6" height="2.6" fill="#646666"/>
<text x="236.01" y="923.8" font-size="18" fill="#626464" font-weight="normal" stroke="#626464" stroke-width="0.84" textLength="105.52" lengthAdjust="spacingAndGlyphs">Access Point</text>
<text x="364.76" y="923.8" font-size="18" fill="#626464" font-weight="normal" stroke="#626464" stroke-width="0.81" textLength="88.89" lengthAdjust="spacingAndGlyphs">IP Camera</text>
<path d="M523.6,868.5 L593.3000000000001,868.5 L593.3000000000001,872.0 Q593.3000000000001,874.7 590.3000000000001,874.7 L526.6,874.7 Q523.6,874.7 523.6,872.0 Z" fill="#fff" stroke="#646666" stroke-width="1.9" stroke-linejoin="round"/>
<rect x="529.2" y="832.5" width="58.5" height="36" fill="#fff" stroke="#646666" stroke-width="1.9"/>
<rect x="532.5" y="835.5" width="51.9" height="31" rx="0.8" fill="#fff" stroke="#646666" stroke-width="1.1"/>
<path d="M536.6,877.5 L606.3000000000001,877.5 L606.3000000000001,881.0 Q606.3000000000001,883.7 603.3000000000001,883.7 L539.6,883.7 Q536.6,883.7 536.6,881.0 Z" fill="#fff" stroke="#646666" stroke-width="1.9" stroke-linejoin="round"/>
<rect x="542.2" y="841.5" width="58.5" height="36" fill="#fff" stroke="#646666" stroke-width="1.9"/>
<rect x="545.5" y="844.5" width="51.9" height="31" rx="0.8" fill="#fff" stroke="#646666" stroke-width="1.1"/>
<path d="M549.6999999999999,886.5 L619.4,886.5 L619.4,890.0 Q619.4,892.7 616.4,892.7 L552.6999999999999,892.7 Q549.6999999999999,892.7 549.6999999999999,890.0 Z" fill="#fff" stroke="#646666" stroke-width="1.9" stroke-linejoin="round"/>
<rect x="555.3" y="850.5" width="58.5" height="36" fill="#fff" stroke="#646666" stroke-width="1.9"/>
<rect x="558.5999999999999" y="853.5" width="51.9" height="31" rx="0.8" fill="#fff" stroke="#646666" stroke-width="1.1"/>
<path d="M579.6,886.2 L580.6,887.8 L588.6,887.8 L589.6,886.2" fill="none" stroke="#646666" stroke-width="1"/>
<path d="M672.1999999999999,852.7 L672.1999999999999,832.7 L697.9999999999999,832.7 L705.2999999999998,839.3000000000001 L705.2999999999998,852.7" fill="#fff" stroke="#646666" stroke-width="1.9" stroke-linejoin="round"/>
<path d="M697.9999999999999,832.7 L697.9999999999999,839.3000000000001 L705.2999999999998,839.3000000000001" fill="none" stroke="#646666" stroke-width="1.2"/>
<path d="M656.3,884.2 L656.3,855.7 Q656.3,851.7 660.3,851.7 L716.6999999999999,851.7 Q720.6999999999999,851.7 720.6999999999999,855.7 L720.6999999999999,884.2 Z" fill="#fff" stroke="#646666" stroke-width="1.9"/>
<line x1="657.3" y1="863.8000000000001" x2="719.6999999999999" y2="863.8000000000001" stroke="#646666" stroke-width="1.2"/>
<circle cx="662.3" cy="856.4000000000001" r="1.1" fill="#646666"/>
<line x1="657.3" y1="879.2" x2="719.6999999999999" y2="879.2" stroke="#aaa" stroke-width="1"/>
<path d="M673.0,884.2 L673.0,877.2 Q673.0,875.0 675.3,875.0 L702.3,875.0 Q704.5999999999999,875.0 704.5999999999999,877.2 L704.5999999999999,884.2" fill="#fff" stroke="#646666" stroke-width="1.2"/>
<path d="M678.0,884.2 L678.0,881.7 Q678.0,880.2 679.8,880.2 L697.8,880.2 Q699.5999999999999,880.2 699.5999999999999,881.7 L699.5999999999999,884.2" fill="#fff" stroke="#646666" stroke-width="1.1"/>
<path d="M695.9,860.2 L695.9,840.2 L721.6999999999999,840.2 L728.9999999999999,846.8000000000001 L728.9999999999999,860.2" fill="#fff" stroke="#646666" stroke-width="1.9" stroke-linejoin="round"/>
<path d="M721.6999999999999,840.2 L721.6999999999999,846.8000000000001 L728.9999999999999,846.8000000000001" fill="none" stroke="#646666" stroke-width="1.2"/>
<path d="M680,891.7 L680,863.2 Q680,859.2 684,859.2 L740.4,859.2 Q744.4,859.2 744.4,863.2 L744.4,891.7 Z" fill="#fff" stroke="#646666" stroke-width="1.9"/>
<line x1="681" y1="871.3000000000001" x2="743.4" y2="871.3000000000001" stroke="#646666" stroke-width="1.2"/>
<circle cx="686" cy="863.9000000000001" r="1.1" fill="#646666"/>
<line x1="681" y1="886.7" x2="743.4" y2="886.7" stroke="#aaa" stroke-width="1"/>
<path d="M696.7,891.7 L696.7,884.7 Q696.7,882.5 699,882.5 L726,882.5 Q728.3,882.5 728.3,884.7 L728.3,891.7" fill="#fff" stroke="#646666" stroke-width="1.2"/>
<path d="M701.7,891.7 L701.7,889.2 Q701.7,887.7 703.5,887.7 L721.5,887.7 Q723.3,887.7 723.3,889.2 L723.3,891.7" fill="#fff" stroke="#646666" stroke-width="1.1"/>
<text x="560.45" y="923.6" font-size="18" fill="#626464" font-weight="normal" stroke="#626464" stroke-width="0.95" textLength="21.37" lengthAdjust="spacingAndGlyphs">PC</text>
<text x="669.65" y="923.6" font-size="18" fill="#626464" font-weight="normal" stroke="#626464" stroke-width="0.66" textLength="60.87" lengthAdjust="spacingAndGlyphs">Printer</text>
<rect x="833.6" y="845.1" width="53.9" height="52.821999999999996" rx="14.553" fill="#fff" stroke="#646666" stroke-width="1.9"/>
<text x="860.5500000000001" y="872.0500000000001" font-size="5.39" font-weight="bold" fill="#333" stroke="#333" stroke-width="0.27" text-anchor="middle" textLength="16.71" lengthAdjust="spacingAndGlyphs">D-Link</text>
<circle cx="860.5500000000001" cy="886.6030000000001" r="0.75" fill="#555"/>
<path d="M887.2,849.2 L887.2,842.0500000000001 A7.15,7.15 0 0 1 894.35,849.2 Z" fill="#1f4f96"/>
<path d="M887.2,832.82 A16.38,16.38 0 0 1 903.58,849.2 L898.38,849.2 A11.18,11.18 0 0 0 887.2,838.0200000000001 Z" fill="#1f4f96"/>
<path d="M887.2,823.2 A26,26 0 0 1 913.2,849.2 L908.0,849.2 A20.8,20.8 0 0 0 887.2,828.4000000000001 Z" fill="#1f4f96"/>
<rect x="951.9" y="839.3" width="47" height="42.4" rx="3.8" fill="#fff" stroke="#646666" stroke-width="1.9"/>
<rect x="957.0" y="831.8" width="13.6" height="42.4" rx="3.3" fill="#fff" stroke="#646666" stroke-width="1.5"/>
<rect x="965.8" y="845.1" width="47" height="42.4" rx="3.8" fill="#fff" stroke="#646666" stroke-width="1.9"/>
<rect x="970.9" y="837.6" width="13.6" height="42.4" rx="3.3" fill="#fff" stroke="#646666" stroke-width="1.5"/>
<rect x="979.7" y="850.9" width="47" height="42.4" rx="3.8" fill="#fff" stroke="#646666" stroke-width="1.9"/>
<rect x="984.8000000000001" y="843.4" width="13.6" height="42.4" rx="3.3" fill="#fff" stroke="#646666" stroke-width="1.5"/>
<rect x="1001.6" y="856.5" width="19.2" height="10.1" rx="1.5" fill="#fff" stroke="#646666" stroke-width="1.1"/>
<rect x="1002.6999999999999" y="871.4" width="3.2" height="3.2" fill="#fff" stroke="#646666" stroke-width="0.9"/>
<rect x="1002.6999999999999" y="876.6999999999999" width="3.2" height="3.2" fill="#fff" stroke="#646666" stroke-width="0.9"/>
<rect x="1002.6999999999999" y="882.3" width="3.2" height="3.2" fill="#fff" stroke="#646666" stroke-width="0.9"/>
<rect x="1009.4" y="871.4" width="3.2" height="3.2" fill="#fff" stroke="#646666" stroke-width="0.9"/>
<rect x="1009.4" y="876.6999999999999" width="3.2" height="3.2" fill="#fff" stroke="#646666" stroke-width="0.9"/>
<rect x="1009.4" y="882.3" width="3.2" height="3.2" fill="#fff" stroke="#646666" stroke-width="0.9"/>
<rect x="1016.3" y="871.4" width="3.2" height="3.2" fill="#fff" stroke="#646666" stroke-width="0.9"/>
<rect x="1016.3" y="876.6999999999999" width="3.2" height="3.2" fill="#fff" stroke="#646666" stroke-width="0.9"/>
<rect x="1016.3" y="882.3" width="3.2" height="3.2" fill="#fff" stroke="#646666" stroke-width="0.9"/>
<text x="815.31" y="923.6" font-size="18" fill="#626464" font-weight="normal" stroke="#626464" stroke-width="0.85" textLength="105.13" lengthAdjust="spacingAndGlyphs">Access Point</text>
<text x="949.34" y="923.6" font-size="18" fill="#626464" font-weight="normal" stroke="#626464" stroke-width="0.79" textLength="78.08" lengthAdjust="spacingAndGlyphs">IP Phone</text>
</svg>
</body></html>
